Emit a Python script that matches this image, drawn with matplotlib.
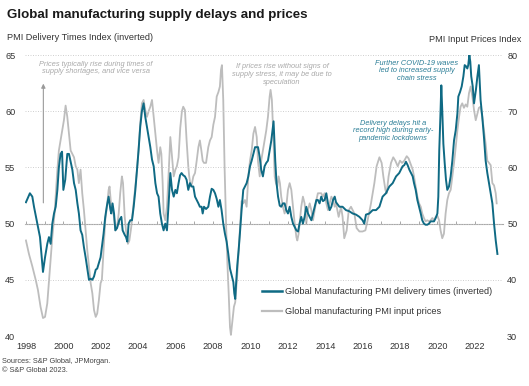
import matplotlib
matplotlib.use("Agg")
import matplotlib.pyplot as plt

plt.rcParams['font.family'] = ['Liberation Sans', 'DejaVu Sans']

# Global Manufacturing PMI delivery times (inverted), left axis
delivery_years = [
    1998.00, 1998.21, 1998.34, 1998.43, 1998.61, 1998.75, 1998.91, 1999.02, 1999.14, 1999.23,
    1999.32, 1999.41, 1999.50, 1999.59, 1999.68, 1999.76, 1999.85, 1999.93, 2000.00, 2000.10,
    2000.21, 2000.30, 2000.39, 2000.48, 2000.57, 2000.66, 2000.75, 2000.83, 2000.92, 2001.01,
    2001.10, 2001.19, 2001.28, 2001.37, 2001.46, 2001.55, 2001.64, 2001.73, 2001.81, 2001.90,
    2001.99,
    2002.06, 2002.15, 2002.24, 2002.33, 2002.42, 2002.51, 2002.56, 2002.63, 2002.71, 2002.78,
    2002.87, 2002.99, 2003.10, 2003.17, 2003.28, 2003.35, 2003.42, 2003.49, 2003.58, 2003.67,
    2003.76, 2003.85, 2003.94, 2004.02, 2004.11, 2004.20, 2004.29, 2004.38, 2004.47, 2004.56,
    2004.65, 2004.74, 2004.83, 2004.92, 2005.01, 2005.09, 2005.18, 2005.27, 2005.36, 2005.45,
    2005.54, 2005.63, 2005.72, 2005.81, 2005.90, 2005.99, 2006.07, 2006.16,
    2006.24, 2006.32, 2006.41, 2006.50, 2006.59, 2006.68, 2006.77, 2006.86, 2006.95,
    2007.04, 2007.13, 2007.22, 2007.30, 2007.39, 2007.45, 2007.52, 2007.63, 2007.75, 2007.84, 2007.93,
    2008.02, 2008.11, 2008.20, 2008.29, 2008.37, 2008.46, 2008.55, 2008.64, 2008.73, 2008.82, 2008.91,
    2009.00, 2009.09, 2009.14, 2009.19, 2009.23, 2009.30, 2009.37, 2009.44, 2009.53, 2009.62,
    2009.71, 2009.80, 2009.89, 2009.98,
    2010.07, 2010.16, 2010.25, 2010.34,
    2010.41, 2010.50, 2010.58, 2010.67, 2010.76, 2010.85, 2010.94,
    2011.03, 2011.12, 2011.24, 2011.33, 2011.40, 2011.48, 2011.57, 2011.65, 2011.74, 2011.83, 2011.92,
    2012.01, 2012.10, 2012.19, 2012.28, 2012.37, 2012.46, 2012.55, 2012.63, 2012.72, 2012.81,
    2012.90, 2012.99,
    2013.08, 2013.17, 2013.26, 2013.35, 2013.44, 2013.53, 2013.61, 2013.70, 2013.79, 2013.88, 2013.97,
    2014.06, 2014.15, 2014.24, 2014.33, 2014.42, 2014.51,
    2014.58, 2014.76, 2014.93,
    2015.11, 2015.29, 2015.47, 2015.65, 2015.83,
    2016.00, 2016.09, 2016.18, 2016.36, 2016.54, 2016.72, 2016.90,
    2017.07, 2017.25, 2017.43, 2017.61, 2017.79, 2017.96,
    2018.05, 2018.14, 2018.23, 2018.32, 2018.41, 2018.50, 2018.68,
    2018.75, 2018.84, 2018.93,
    2019.02, 2019.11, 2019.19, 2019.28, 2019.37, 2019.46, 2019.55, 2019.64, 2019.73, 2019.82, 2019.91,
    2020.00, 2020.05, 2020.10, 2020.16, 2020.21, 2020.26, 2020.32, 2020.39, 2020.46, 2020.53,
    2020.62, 2020.71, 2020.80, 2020.89, 2020.98,
    2021.07, 2021.12, 2021.21, 2021.30, 2021.39, 2021.46, 2021.53, 2021.60, 2021.65, 2021.71,
    2021.76, 2021.81, 2021.89, 2021.96,
    2022.06, 2022.14, 2022.22, 2022.31, 2022.40, 2022.49, 2022.58, 2022.67, 2022.76, 2022.85, 2022.94,
    2023.03, 2023.12, 2023.21,
]
delivery_vals = [
    51.9, 52.7, 52.4, 51.5, 50.0, 48.8, 45.7, 47.0, 48.2, 48.8,
    48.2, 50.0, 50.9, 51.5, 53.0, 55.0, 56.2, 56.4, 53.0, 53.9,
    56.2, 56.2, 55.5, 54.8, 53.6, 53.0, 51.8, 50.9, 49.4, 49.0,
    47.9, 47.0, 46.0, 45.0, 45.1, 45.0, 45.3, 45.9, 46.0, 46.5,
    47.0,
    47.9, 49.1, 50.6, 51.6, 52.4, 51.3, 50.9, 51.8, 50.9, 49.4,
    49.6, 50.3, 50.6, 49.4, 49.0, 48.8, 48.4, 50.0, 50.3, 50.3,
    51.5, 53.0, 54.8, 56.5, 58.6, 60.0, 60.7, 59.5, 58.6, 57.7,
    56.8, 55.7, 55.1, 53.6, 52.7, 52.4, 50.9, 50.0, 49.4, 50.0,
    49.4, 51.8, 54.5, 53.0, 52.4, 53.0, 52.7, 53.6,
    54.3, 54.5, 54.3, 54.2, 53.9, 53.0, 53.6, 53.3, 53.3,
    52.4, 52.1, 51.8, 51.5, 51.5, 50.9, 51.5, 51.3, 51.5, 52.4, 53.1,
    53.0, 52.7, 52.2, 51.5, 52.1, 51.2, 50.0, 49.1, 48.4, 47.3, 46.0,
    45.4, 44.8, 43.8, 43.3, 44.5, 46.3, 47.6, 49.1, 51.2, 53.0,
    53.3, 53.6, 54.2, 55.1,
    55.6, 56.2, 56.8, 56.8,
    56.8, 55.9, 54.8, 54.2, 55.1, 55.4, 55.6,
    56.5, 57.4, 59.1, 55.6, 53.6, 52.4, 51.6, 51.5, 51.8, 51.8, 51.2,
    50.9, 51.5, 50.6, 50.0, 49.7, 49.4, 49.3, 50.0, 50.6, 50.0,
    50.6, 51.5,
    50.9, 50.6, 50.3, 50.9, 51.5, 52.1, 52.1, 51.8, 52.4, 52.0, 52.1,
    52.7, 51.8, 51.2, 51.5, 52.1, 52.4,
    51.9, 51.5, 51.5,
    51.2, 51.1, 50.9, 50.8, 50.6,
    50.3, 50.0, 50.8, 50.9, 51.2, 51.2, 51.5,
    52.4, 52.7, 53.3, 53.6, 54.2, 54.5,
    54.8, 55.1, 55.2, 55.5, 55.2, 54.8, 54.2,
    53.6, 53.0, 52.1,
    51.5, 50.9, 50.3, 50.0, 49.9, 49.9, 50.0, 50.2, 50.2, 50.2, 50.5,
    50.9, 52.4, 56.5, 59.5, 62.3, 60.1, 57.1, 55.4, 53.9, 53.0,
    53.3, 54.2, 55.6, 57.4, 58.3,
    59.8, 61.3, 61.7, 62.2, 63.1, 64.1, 64.0, 63.8, 64.1, 65.0,
    64.4, 63.1, 62.2, 60.7,
    61.9, 63.1, 64.1, 61.0, 59.5, 57.7, 55.6, 54.5, 53.6, 52.7, 51.8,
    50.0, 48.5, 47.3,
]

# Global manufacturing PMI input prices, right axis
prices_years = [
    1998.00, 1998.16, 1998.34, 1998.52, 1998.64, 1998.78, 1998.91,
    1999.02, 1999.14, 1999.28, 1999.41, 1999.53, 1999.68, 1999.76, 1999.85, 1999.94,
    2000.03, 2000.12, 2000.21, 2000.30, 2000.39, 2000.48, 2000.57, 2000.66, 2000.75, 2000.83, 2000.92,
    2001.01, 2001.10, 2001.19, 2001.28, 2001.37, 2001.46, 2001.55, 2001.64, 2001.73, 2001.81,
    2001.90, 2001.99,
    2002.06, 2002.15, 2002.24, 2002.33, 2002.42, 2002.47, 2002.56, 2002.63, 2002.71, 2002.78,
    2002.87, 2002.96,
    2003.04, 2003.13, 2003.19, 2003.28, 2003.35, 2003.45, 2003.53, 2003.63, 2003.70, 2003.81, 2003.94,
    2004.02, 2004.11, 2004.20, 2004.29, 2004.38, 2004.47, 2004.56, 2004.65, 2004.74, 2004.83, 2004.92,
    2005.01, 2005.09, 2005.18, 2005.24, 2005.31, 2005.36, 2005.45, 2005.54, 2005.63, 2005.72,
    2005.81, 2005.90, 2005.99,
    2006.07, 2006.16,
    2006.25, 2006.34, 2006.41, 2006.50, 2006.59, 2006.68, 2006.73, 2006.81, 2006.88, 2006.95,
    2007.04, 2007.13, 2007.22, 2007.30, 2007.38, 2007.45, 2007.52, 2007.63, 2007.75, 2007.84, 2007.93,
    2008.02, 2008.11, 2008.20, 2008.29, 2008.37, 2008.43, 2008.48, 2008.55, 2008.62, 2008.70,
    2008.77, 2008.84, 2008.91, 2008.96,
    2009.03, 2009.12, 2009.19, 2009.30, 2009.44, 2009.53, 2009.62, 2009.71, 2009.80, 2009.89, 2009.98,
    2010.07, 2010.16, 2010.25, 2010.34,
    2010.41, 2010.50, 2010.58, 2010.67, 2010.76, 2010.85, 2010.94,
    2011.03, 2011.08, 2011.15, 2011.23, 2011.30, 2011.37, 2011.44, 2011.51, 2011.58, 2011.65,
    2011.74, 2011.83, 2011.92,
    2012.01, 2012.10, 2012.19, 2012.28, 2012.37, 2012.46, 2012.51, 2012.58, 2012.65, 2012.72,
    2012.81, 2012.90, 2012.99,
    2013.08, 2013.17, 2013.26, 2013.35, 2013.44, 2013.53, 2013.61, 2013.70, 2013.79, 2013.88, 2013.97,
    2014.06, 2014.15, 2014.24, 2014.33, 2014.42, 2014.51,
    2014.58, 2014.72, 2014.85, 2014.93,
    2015.02, 2015.15, 2015.26, 2015.38, 2015.56, 2015.68, 2015.83,
    2016.00, 2016.15, 2016.27, 2016.45, 2016.63, 2016.75, 2016.90,
    2017.02, 2017.11, 2017.22, 2017.29, 2017.39, 2017.52, 2017.64, 2017.75, 2017.88,
    2018.00, 2018.11, 2018.23, 2018.36, 2018.46, 2018.59, 2018.68, 2018.75, 2018.84, 2018.93,
    2019.02, 2019.11, 2019.19, 2019.28, 2019.37, 2019.46, 2019.55, 2019.64, 2019.73, 2019.82, 2019.91,
    2020.00, 2020.09, 2020.17, 2020.26, 2020.35, 2020.44, 2020.53, 2020.62, 2020.71, 2020.80,
    2020.89, 2020.98,
    2021.07, 2021.16, 2021.24, 2021.33, 2021.42, 2021.51, 2021.60, 2021.69, 2021.78, 2021.87, 2021.96,
    2022.05, 2022.14, 2022.22, 2022.31, 2022.40, 2022.49, 2022.58, 2022.67, 2022.76, 2022.85, 2022.94,
    2023.03, 2023.12, 2023.17,
]
prices_vals = [
    47.0, 44.6, 42.4, 40.0, 38.2, 35.2, 33.2,
    33.4, 35.8, 41.8, 47.6, 51.8, 59.6, 63.0, 64.8, 66.6,
    68.4, 71.0, 69.0, 66.0, 63.0, 62.4, 61.8, 60.2, 59.6, 57.2, 59.6,
    55.4, 52.4, 48.8, 45.2, 42.4, 39.4, 37.6, 34.6, 33.4, 34.0,
    36.4, 39.4,
    40.0, 45.2, 50.6, 53.0, 56.0, 56.6, 53.0, 52.4, 51.2, 48.8,
    49.4, 51.8,
    55.4, 58.4, 57.2, 51.2, 48.8, 46.4, 47.0, 49.4, 51.8, 55.4, 59.6,
    63.0, 67.8, 71.4, 72.0, 70.2, 69.0, 70.0, 70.8, 72.0, 69.0, 66.0,
    63.0, 60.8, 63.6, 62.4, 57.2, 51.8, 50.6, 53.0, 59.0, 65.4,
    61.8, 58.4, 59.6,
    60.2, 61.8,
    67.0, 70.0, 70.8, 70.2, 64.8, 60.2, 58.4, 56.6, 57.2, 58.4,
    59.0, 61.2, 63.6, 64.8, 63.0, 61.2, 60.8, 60.8, 63.6, 64.8, 65.4,
    67.6, 69.0, 72.6, 73.4, 74.4, 77.4, 78.2, 72.0, 60.2, 50.0,
    43.0, 37.6, 31.6, 30.2,
    32.4, 35.2, 36.0, 41.0, 49.0, 54.0, 53.6, 54.2, 53.0, 58.4, 61.2,
    63.0, 66.0, 67.2, 65.4,
    61.0, 58.4, 61.2, 63.0, 64.8, 66.6, 69.0,
    72.6, 73.8, 72.0, 65.4, 58.4, 57.2, 56.6, 58.4, 57.2, 54.8,
    53.0, 51.8, 53.0,
    56.0, 57.2, 56.0, 53.0, 50.0, 47.6, 47.0, 48.2, 50.6, 53.0,
    54.8, 53.6, 50.0,
    52.4, 53.6, 52.4, 50.6, 52.4, 54.2, 55.4, 55.4, 55.4, 54.8, 55.4,
    53.6, 52.4, 53.6, 54.8, 54.2, 53.0,
    53.6, 51.2, 53.0, 51.2,
    47.4, 48.8, 52.4, 53.0, 51.8, 49.2, 48.6,
    48.6, 48.8, 50.6, 53.6, 57.2, 60.2, 61.8,
    60.8, 58.4, 56.0, 55.4, 58.4, 60.8, 61.8, 61.2, 60.2,
    61.2, 60.8, 61.2, 62.0, 61.6, 60.4, 59.6, 58.4, 56.6, 54.8,
    53.6, 53.0, 51.8, 51.0, 50.4, 50.6, 50.4, 50.6, 51.0, 50.6, 51.2,
    51.4, 50.6, 48.8, 47.4, 48.2, 51.8, 54.2, 55.4, 56.0, 58.4,
    60.8, 63.6,
    66.6, 69.0, 70.8, 71.4, 70.6, 71.2, 70.8, 73.2, 74.4, 72.6, 70.2,
    68.4, 69.6, 70.6, 70.8, 69.0, 66.6, 64.2, 61.2, 60.8, 60.4, 57.2,
    56.8, 55.4, 53.6,
]

left_ticks = [40, 45, 50, 55, 60, 65]
right_ticks = [30, 40, 50, 60, 70, 80]
year_labels = list(range(1998, 2023, 2))
year_minor = list(range(1998, 2024))

BLUE = '#0f6a84'
GREY = '#bdbdbd'
TEAL_TXT = '#2a7d96'
NOTE_GREY = '#a9a9a9'
TXT = '#333333'

fig = plt.figure(figsize=(5.29, 3.86), dpi=100)
ax = fig.add_axes([0.0473, 0.1295, 0.9036, 0.728])
ax2 = ax.twinx()

ax2.plot(prices_years, prices_vals, color=GREY, lw=1.3, solid_joinstyle='round')
ax.plot(delivery_years, delivery_vals, color=BLUE, lw=1.4, solid_joinstyle='round')
ax.set_zorder(ax2.get_zorder() + 1)
ax.patch.set_visible(False)

ax.set_xlim(1997.95, 2023.51)
ax.set_ylim(40, 65)
ax2.set_ylim(30, 80)

for a in (ax, ax2):
    for s in a.spines.values():
        s.set_visible(False)

ax.set_yticks(left_ticks)
ax2.set_yticks(right_ticks)
ax.set_xticks(year_labels)
ax.tick_params(axis='both', length=0, labelsize=6.6, labelcolor=TXT)
ax.tick_params(axis='y', pad=7)
ax.tick_params(axis='x', pad=4)
ax2.tick_params(axis='y', length=0, labelsize=6.6, labelcolor=TXT, pad=3)

ax.grid(axis='y', color='#c9c9c9', lw=0.6, linestyle=(0, (1.2, 1.8)))
ax.grid(axis='x', visible=False)

# solid axis line at 50 with yearly ticks
sec = ax.secondary_xaxis(0.4)
sec.set_xticks(year_minor)
sec.tick_params(axis='x', direction='in', length=2.5, width=0.6, color='#9a9a9a',
                labelbottom=False, labeltop=False)
for s in sec.spines.values():
    s.set_color('#a8a8a8')
    s.set_linewidth(0.8)

# legend
h1, = ax.plot([], [], color=BLUE, lw=1.8)
h2, = ax.plot([], [], color=GREY, lw=1.6)
ax.legend([h1, h2], ['Global Manufacturing PMI delivery times (inverted)',
                     'Global manufacturing PMI input prices'],
          loc='center left', bbox_to_anchor=(0.496, 0.1225), frameon=False,
          fontsize=6.6, handlelength=2.2, handletextpad=0.35, labelspacing=1.2,
          borderpad=0, borderaxespad=0, labelcolor=TXT)

# annotations
ax.annotate('', xy=(1998.93, 62.7), xytext=(1998.93, 51.6),
            arrowprops=dict(arrowstyle='-|>', color='#9a9a9a', lw=0.8,
                            mutation_scale=6))
ax.text(2001.74, 63.85, 'Prices typically rise during times of\nsupply shortages, and vice versa',
        ha='center', va='center', fontsize=5.3, style='italic', color=NOTE_GREY,
        linespacing=1.15)
ax.text(2011.69, 63.28, 'If prices rise without signs of\nsupply stress, it may be due to\nspeculation',
        ha='center', va='center', fontsize=5.3, style='italic', color=NOTE_GREY,
        linespacing=1.15)
ax.text(2018.91, 63.58, 'Further COVID-19 waves\nled to increased supply\nchain stress',
        ha='center', va='center', fontsize=5.3, style='italic', color=TEAL_TXT,
        linespacing=1.15)
ax.text(2017.63, 58.24, 'Delivery delays hit a\nrecord high during early-\npandemic lockdowns',
        ha='center', va='center', fontsize=5.3, style='italic', color=TEAL_TXT,
        linespacing=1.15)

# titles and footer
W, H = 529.0, 386.0
fig.text(7 / W, 1 - 15 / H, 'Global manufacturing supply delays and prices',
         fontsize=9.6, fontweight='bold', color='#1a1a1a', va='center', ha='left')
fig.text(7 / W, 1 - 38 / H, 'PMI Delivery Times Index (inverted)',
         fontsize=6.6, color=TXT, va='center', ha='left')
fig.text(521 / W, 1 - 40 / H, 'PMI Input Prices Index',
         fontsize=6.6, color=TXT, va='center', ha='right')
fig.text(2 / W, 1 - 366 / H, 'Sources: S&P Global, JPMorgan.\n\u00a9 S&P Global 2023.',
         fontsize=5.3, color='#444444', va='center', ha='left', linespacing=1.25)

fig.savefig('out.png', dpi=100)
